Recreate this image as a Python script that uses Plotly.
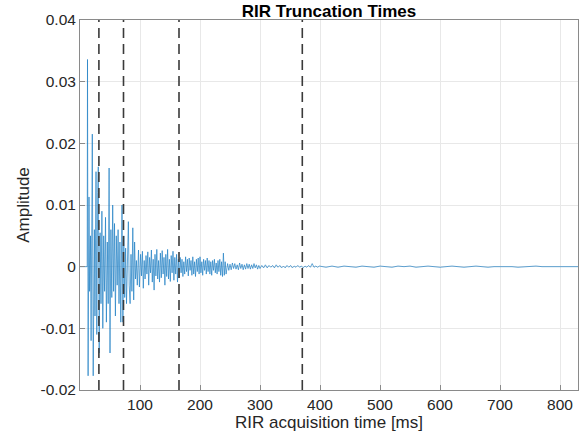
import plotly.graph_objects as go

# ---- data ----
# time stamps [ms] of the waveform's turning points
time_ms = [
    0, 12,
    12.5, 13.5, 15, 16, 17.5, 18.5, 20.5, 22, 24, 25, 26.7, 28, 29.5, 30.5, 32,
    33.5, 35, 36.5, 38, 39.5, 41, 42.5, 44, 45.5, 47, 48.5, 50, 51.5, 53, 54.5,
    56, 57.5, 59, 60.5, 62, 63.5, 65, 66.5, 68, 70, 71.5, 73, 74.5, 76, 77.5,
    79, 80.6, 82, 83.5, 85, 86.5, 88, 89.5, 91, 92.5, 94, 95.5, 97.5, 99,
    101, 102.5, 104, 105.5, 107, 108.5, 110, 111.5, 113, 114.5, 116, 117.5,
    119, 120.5, 122, 123.5, 125, 126.5, 128, 129.5, 131, 132.5, 134, 135.5,
    137, 138.5, 140, 141.5, 143, 144.5, 146, 147.5, 149, 150.5, 152, 153.5,
    155, 156.5, 158, 159.5, 161, 162.5, 164, 165.5,
    167, 168.5, 170, 171.5, 173, 174.5, 176, 177.5, 179, 180.5, 182, 183.5,
    185, 186.5, 188, 189.5, 191, 192.5, 194, 195.5, 197, 198.5, 200, 201.5,
    203, 204.5, 206, 207.5, 209, 210.5, 212, 213.5, 215, 216.5, 218, 219.5,
    221, 222.5, 224, 225.5, 227, 228.5, 230, 231.5, 233, 234.5, 236, 237.5,
    239, 240.5, 242, 243.5,
    246, 248, 250, 252, 254, 256, 258, 260, 262, 264, 266, 268, 270, 272, 274,
    276, 278, 280, 282, 284, 286, 288, 290, 292, 294, 296, 298, 300,
    303, 306, 309, 312, 315, 318, 321, 324, 327, 330, 333, 336, 339, 342, 345,
    348, 351, 354, 357, 360, 363, 366, 369, 372, 375, 378, 381, 384, 387, 390,
    393, 396, 399,
    410, 420, 430, 440, 450, 460, 470, 480, 490, 500, 510, 520, 530, 540, 550,
    560, 570, 580, 590, 600, 610, 620, 630, 640, 650, 660, 670, 680, 690, 700,
    710, 720, 730, 740, 750, 760, 770, 780, 790, 800, 810, 820, 830,
]

amplitude = [
    0, 0,
    0.0336, -0.0177, 0.0113, -0.004, 0.005, -0.012, 0.0215, -0.0177, 0.006,
    -0.008, 0.0154, -0.011, 0.012, 0.0162, -0.014,
    0.0055, -0.006, 0.009, -0.010, 0.005, -0.004, 0.008, -0.009, 0.004, -0.006,
    0.016, -0.014, 0.006, -0.005, 0.010,
    -0.004, 0.007, -0.008, 0.005, -0.003, 0.006, -0.006, 0.004, -0.009, 0.010,
    -0.009, 0.005, -0.005, 0.003, -0.006,
    0.004, 0.0073, -0.003, -0.006, 0.002, -0.004, 0.0063, -0.0054, 0.004,
    -0.002, 0.001, -0.003, 0.0027, -0.0033,
    0.002, -0.0015, 0.0025, -0.0035, 0.001, -0.002, 0.0018, -0.0012, 0.0024,
    -0.003, 0.0015, -0.001,
    0.0027, -0.0025, 0.0012, -0.0038, 0.002, -0.0015, 0.0028, -0.002, 0.001,
    -0.0025, 0.0022, -0.0018,
    0.0026, -0.0012, 0.0015, -0.003, 0.002, -0.0016, 0.0028, -0.002, 0.0012,
    -0.0024, 0.0018, -0.001,
    0.0025, -0.0022, 0.0015, -0.0012, 0.002, -0.0025, 0.0012, -0.0018,
    0.0015, -0.001, 0.0012, -0.0016, 0.0008, -0.0012, 0.0016, -0.0008, 0.0012,
    -0.0015, 0.0014, -0.0006,
    0.001, -0.0014, 0.0016, -0.0012, 0.0008, -0.0016, 0.0012, -0.0008, 0.0014,
    -0.0012, 0.0016, -0.001,
    0.0008, -0.0014, 0.0012, -0.0006, 0.001, -0.0012, 0.0014, -0.0008, 0.001,
    -0.0012, 0.0008, -0.0014,
    0.001, -0.0006, 0.0012, -0.001, 0.0006, -0.0012, 0.001, -0.0008, 0.0012,
    -0.0014, 0.0008, -0.0016,
    0.0022, -0.0014, 0.0008, -0.0012,
    0.0005, -0.0006, 0.0004, -0.0005, 0.0006, -0.0003, 0.0005, -0.0004, 0.0003,
    -0.0005, 0.0006, -0.0003, 0.0004, -0.0005, 0.0003,
    -0.0004, 0.0005, -0.0003, 0.0004, -0.0004, 0.0003, -0.0003, 0.0005,
    -0.0002, 0.0003, -0.0004, 0.0002, -0.0003,
    0.0002, -0.0002, 0.0003, -0.0002, 0.0002, -0.0001, 0.0002, -0.0002,
    0.0003, -0.0001, 0.0002, -0.0002, 0.0001, -0.0002, 0.0002,
    -0.0001, 0.0002, -0.0002, 0.0001, -0.0001, 0.0002, -0.0001, 0.0001,
    -0.0002, 0.0001, -0.0001, 0.0002, -0.0001, 0.0005, -0.0001,
    0.0001, -0.0001, 0.0001,
    -0.0001, 0.0001, -0.0001, 0.0001, 0.0, -0.0001, 0.0001, 0.0, -0.0001,
    0.0001, 0.0, -0.0001, 0.0001, 0.0, 0.0001,
    -0.0001, 0.0, 0.0001, 0.0, -0.0001, 0.0, 0.0001, 0.0, -0.0001, 0.0,
    0.0001, 0.0, -0.0001, 0.0, 0.0,
    0.0001, 0.0, -0.0001, 0.0, 0.0, 0.0001, 0.0, 0.0, -0.0001, 0.0, 0.0, 0.0,
    0.0,
]

truncation_times_ms = [31.5, 72.5, 165, 370.5]

x_ticks = [100, 200, 300, 400, 500, 600, 700, 800]
y_ticks = [-0.02, -0.01, 0, 0.01, 0.02, 0.03, 0.04]
y_tick_labels = ["-0.02", "-0.01", "0", "0.01", "0.02", "0.03", "0.04"]

x_range = [0, 830]
y_range = [-0.02, 0.04]

FONT = "Liberation Sans, Arial, Helvetica, sans-serif"

fig = go.Figure()
fig.add_trace(go.Scatter(
    x=time_ms, y=amplitude, mode="lines",
    line=dict(color="#1f7fc4", width=0.7),
    showlegend=False, hoverinfo="skip",
))

for t in truncation_times_ms:
    fig.add_shape(
        type="line", xref="x", yref="paper", x0=t, x1=t, y0=0, y1=1,
        line=dict(color="#3a3a3a", width=1.6, dash="10px,6px"),
        layer="above",
    )

fig.update_layout(
    width=587, height=442,
    margin=dict(l=80, r=9, t=20, b=52, autoexpand=False),
    paper_bgcolor="white", plot_bgcolor="white",
    font=dict(family=FONT, color="#262626", size=15.5),
    title=dict(
        text="<b>RIR Truncation Times</b>",
        x=0.5, xref="paper", xanchor="center",
        y=1 - 11 / 442, yref="container", yanchor="middle",
        font=dict(size=17, family=FONT, color="black"),
    ),
)

axis_common = dict(
    showgrid=True, gridcolor="#e8e8e8", gridwidth=1,
    showline=True, linecolor="#8a8a8a", linewidth=1, mirror=True,
    ticks="inside", ticklen=5, tickcolor="#8a8a8a", tickwidth=1,
    zeroline=False, automargin=False,
    tickfont=dict(size=15.5, family=FONT, color="#262626"),
)

fig.update_xaxes(
    range=x_range, tickvals=x_ticks,
    title=dict(text="RIR acquisition time [ms]", font=dict(size=17, family=FONT, color="#262626"), standoff=0),
    **axis_common,
)
fig.update_yaxes(
    range=y_range, tickvals=y_ticks, ticktext=y_tick_labels,
    title=dict(text="Amplitude", font=dict(size=17, family=FONT, color="#262626"), standoff=6),
    **axis_common,
)

fig.write_html(
    "out.html",
    config={"displayModeBar": False},
    post_script="document.body.style.margin='0';document.body.style.padding='0';",
)
